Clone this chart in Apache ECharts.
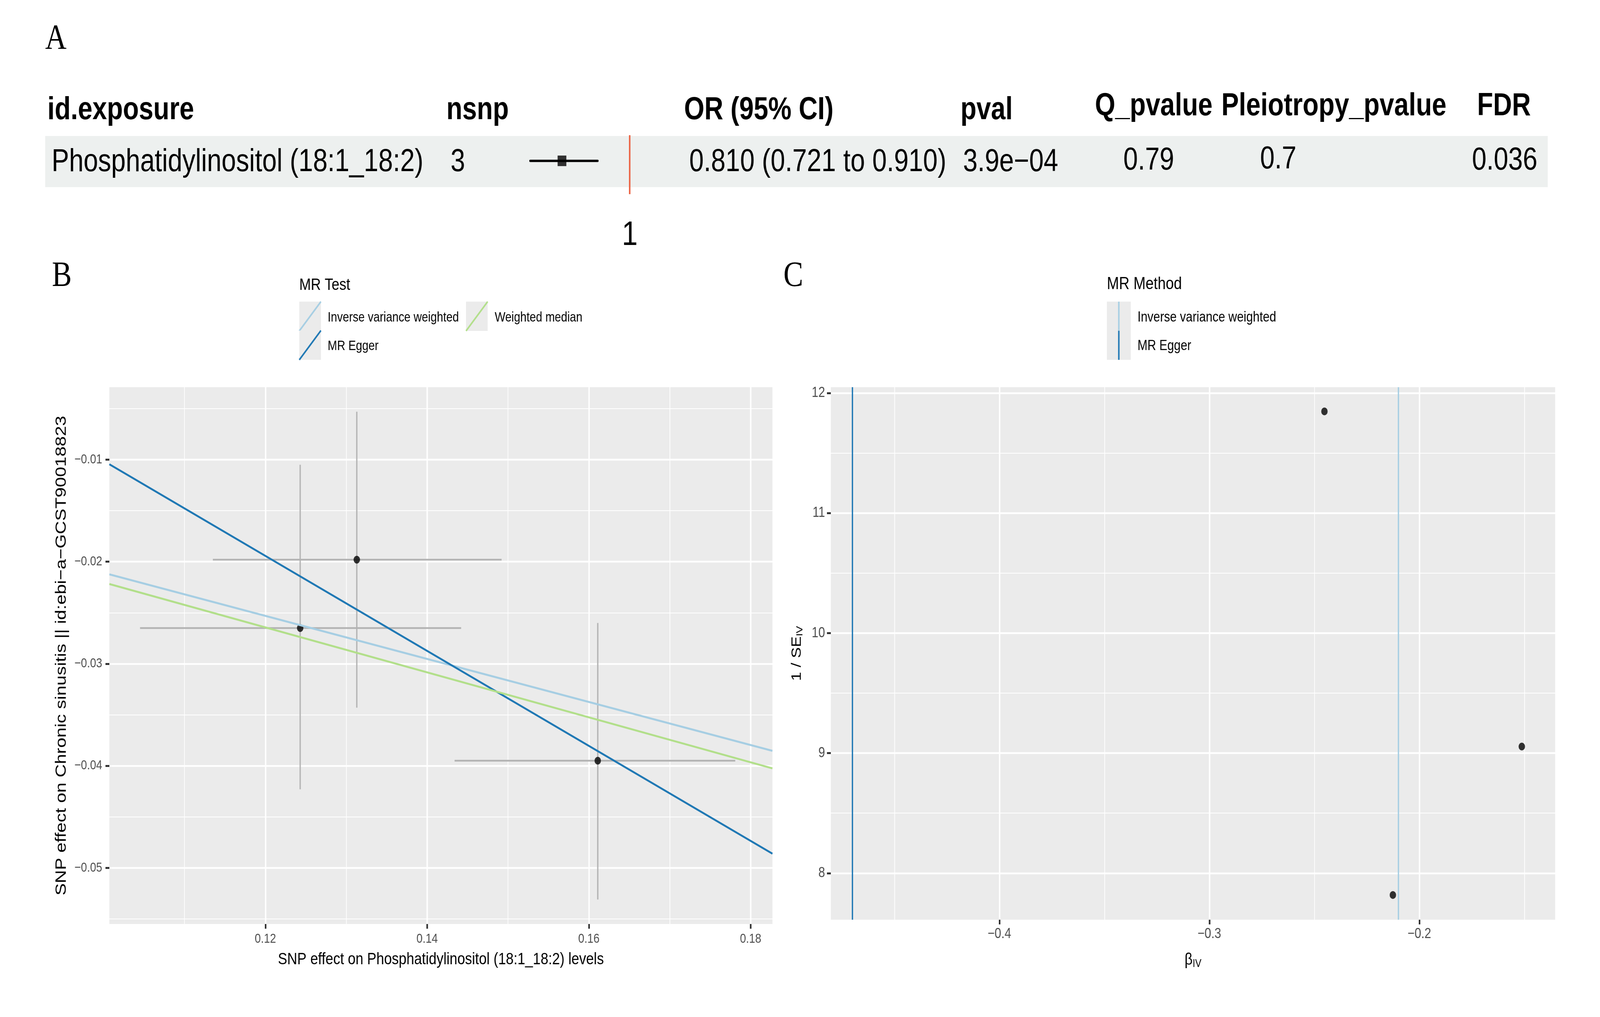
<!DOCTYPE html>
<html>
<head>
<meta charset="utf-8">
<script src="https://cdn.jsdelivr.net/npm/echarts@6/dist/echarts.min.js"></script>
<style>
  html, body { margin: 0; padding: 0; background: #fff; overflow: hidden; }
  #chart { width: 4961px; height: 2603px; transform-origin: 0 0; }
</style>
</head>
<body>
<div id="chart"></div>
<script>
// ---- Panel A: table row ----
const tableHeaders = ['id.exposure', 'nsnp', 'OR (95% CI)', 'pval', 'Q_pvalue', 'Pleiotropy_pvalue', 'FDR'];
const exposure = 'Phosphatidylinositol (18:1_18:2)';
const nsnp = 3;
const orEst = 0.810;
const orLow = 0.721;
const orHigh = 0.910;
const pval = '3.9e\u221204';
const qPvalue = '0.79';
const pleioPvalue = '0.7';
const fdr = '0.036';
const forestTicks = [1];

// ---- Panel B: scatter ----
const methods = ['Inverse variance weighted', 'MR Egger', 'Weighted median'];
const methodSlope = [-0.2109, -0.4653, -0.2203];
const methodIntercept = [0, 0.0364, 0];
const snpBx = [0.1243, 0.1313, 0.1611];
const snpBy = [-0.0265, -0.0198, -0.0395];
const snpBxLo = [0.1045, 0.1135, 0.1434];
const snpBxHi = [0.1442, 0.1492, 0.1781];
const snpByLo = [-0.0423, -0.0343, -0.0531];
const snpByHi = [-0.0105, -0.0053, -0.0260];
const scatterXMajor = [0.12, 0.14, 0.16, 0.18];
const scatterXMinor = [0.11, 0.13, 0.15, 0.17];
const scatterYMajor = [-0.05, -0.04, -0.03, -0.02, -0.01];
const scatterYMinor = [-0.055, -0.045, -0.035, -0.025, -0.015, -0.005];

// ---- Panel C: funnel ----
const funnelMethods = ['Inverse variance weighted', 'MR Egger'];
const funnelMethodBeta = [-0.2109, -0.4650];
const funnelBeta = [-0.2126, -0.1512, -0.2452];
const funnelInvSe = [7.818, 9.055, 11.847];
const funnelXMajor = [-0.4, -0.3, -0.2];
const funnelXMinor = [-0.45, -0.35, -0.25, -0.15];
const funnelYMajor = [8, 9, 10, 11, 12];
const funnelYMinor = [8.5, 9.5, 10.5, 11.5];

const COLORS = {
  ivw: '#a6cee3',
  egger: '#1f78b4',
  wm: '#b2df8a',
  panel: '#ebebeb',
  band: '#edf0ef',
  ref: '#eb6a4c',
  errbar: '#b3b3b3',
  tick: '#333333',
  tickText: '#4d4d4d',
};
const methodColor = { 'Inverse variance weighted': COLORS.ivw, 'MR Egger': COLORS.egger, 'Weighted median': COLORS.wm };

const SANS = '"Liberation Sans", Arial, Helvetica, sans-serif';
const SERIF = '"Liberation Serif", "DejaVu Serif", serif';

const W = 4961, H = 2603;
const B_X = [0.1007, 0.1827];
const B_Y = [-0.0555, -0.0029];
const C_X = [-0.4803, -0.1353];
const C_Y = [7.612, 12.049];

const minus = v => String(v).replace('-', '\u2212');

// the layout is drawn on a 4961x2603 board, then fitted to the window
const el = document.getElementById('chart');
el.style.transform = `scale(${window.innerWidth / W}, ${window.innerHeight / H})`;

function majorAxis(gridIndex, range, ticks, extra) {
  return Object.assign({
    type: 'value', gridIndex, min: range[0], max: range[1],
    axisLine: { show: false },
    axisTick: { show: true, customValues: ticks, length: 12, lineStyle: { color: COLORS.tick, width: 5 } },
    axisLabel: { customValues: ticks, color: COLORS.tickText, fontSize: 34, fontFamily: SANS, formatter: minus },
    splitLine: { show: true, lineStyle: { color: '#ffffff', width: 4.5 } },
    nameLocation: 'middle',
    nameTextStyle: { color: '#000', fontSize: 43, fontFamily: SANS },
  }, extra || {});
}

function minorAxis(gridIndex, range, ticks) {
  return {
    type: 'value', gridIndex, min: range[0], max: range[1],
    axisLine: { show: false },
    axisTick: { show: false, customValues: ticks },
    axisLabel: { show: false, customValues: ticks },
    splitLine: { show: true, lineStyle: { color: '#ffffff', width: 2.2 } },
  };
}

function txt(text, x, y, size, opts) {
  return Object.assign({
    type: 'text', x, y, silent: true,
    style: Object.assign({ text, fontSize: size, fontFamily: SANS, fill: '#000', verticalAlign: 'middle', align: 'left' }, (opts && opts.style) || {}),
  }, opts && opts.el);
}

// ---- table graphics ----
const headerX = [147, 1384, 2121, 2978, 3395, 3787, 4580];
const headerY = [283, 283, 283, 283, 273, 273, 273];
const rowCells = [exposure, String(nsnp),
  `${orEst.toFixed(3)} (${orLow.toFixed(3)} to ${orHigh.toFixed(3)})`, pval, qPvalue, pleioPvalue, fdr];
const rowX = [160, 1397, 2137, 2986, 3483, 3907, 4564];
const rowY = [416, 416, 416, 416, 412, 409, 412];

const graphics = [];
graphics.push({ type: 'rect', z: -10, silent: true, shape: { x: 140, y: 348, width: 4659, height: 131 }, style: { fill: COLORS.band } });
tableHeaders.forEach((h, i) => graphics.push(txt(h, headerX[i], headerY[i], 81, { style: { fontWeight: 'bold' } })));
rowCells.forEach((c, i) => graphics.push(txt(c, rowX[i], rowY[i], 81)));

// panel letters
[['A', 140, 101], ['B', 161, 708], ['C', 2429, 708]].forEach(([t, x, y]) =>
  graphics.push(txt(t, x, y, 92, { style: { fontFamily: SERIF } })));

// legend B (MR Test)
graphics.push(txt('MR Test', 928, 730, 43));
const legBKeys = [[928, 772], [928, 846], [1445, 772]];
const legBLabels = [[1016, 813], [1016, 886], [1534, 813]];
methods.forEach((m, i) => {
  const [kx, ky] = legBKeys[i];
  graphics.push({ type: 'rect', silent: true, shape: { x: kx, y: ky, width: 67, height: 75 }, style: { fill: COLORS.panel } });
  graphics.push({ type: 'line', silent: true, shape: { x1: kx, y1: ky + 75, x2: kx + 67, y2: ky }, style: { stroke: methodColor[m], lineWidth: 4.5 } });
  graphics.push(txt(m, legBLabels[i][0], legBLabels[i][1], 35));
});

// legend C (MR Method)
graphics.push(txt('MR Method', 3432, 728, 45));
graphics.push({ type: 'rect', silent: true, shape: { x: 3432, y: 772, width: 74, height: 149 }, style: { fill: COLORS.panel } });
funnelMethods.forEach((m, i) => {
  const ky = 772 + i * 74.5;
  graphics.push({ type: 'line', silent: true, shape: { x1: 3469, y1: ky, x2: 3469, y2: ky + 74.5 }, style: { stroke: methodColor[m], lineWidth: 4.5 } });
  graphics.push(txt(m, 3527, 813 + i * 73, 37));
});

// ---- chart ----
const chart = echarts.init(el, null, { renderer: 'canvas' });

const scatterLines = methods.map((m, i) => ({
  name: m, type: 'line', xAxisIndex: 0, yAxisIndex: 0, z: 5,
  showSymbol: false, silent: true,
  color: methodColor[m],
  lineStyle: { width: 5, color: methodColor[m] },
  data: B_X.map(x => [x, methodIntercept[i] + methodSlope[i] * x]),
}));

const funnelLines = funnelMethods.map((m, i) => ({
  name: m, type: 'line', xAxisIndex: 2, yAxisIndex: 2, z: 3,
  data: [], silent: true,
  markLine: {
    silent: true, symbol: 'none', animation: false,
    label: { show: false },
    lineStyle: { color: methodColor[m], width: 4, type: 'solid' },
    data: [{ xAxis: funnelMethodBeta[i] }],
  },
}));

chart.setOption({
  animation: false,
  backgroundColor: '#ffffff',
  textStyle: { fontFamily: SANS },
  graphic: { elements: graphics },
  grid: [
    { left: 339, right: W - 2395, top: 991, bottom: H - 2365, show: true, backgroundColor: COLORS.panel, borderWidth: 0 },
    { left: 2576, right: W - 4822, top: 991, bottom: H - 2354, show: true, backgroundColor: COLORS.panel, borderWidth: 0 },
    { left: 1510, width: 664, top: 346, height: 151 },
  ],
  xAxis: [
    majorAxis(0, B_X, scatterXMajor, {
      name: 'SNP effect on Phosphatidylinositol (18:1_18:2) levels', nameGap: 70,
      axisLabel: { customValues: scatterXMajor, color: COLORS.tickText, fontSize: 34, fontFamily: SANS, margin: 22, formatter: minus },
    }),
    minorAxis(0, B_X, scatterXMinor),
    majorAxis(1, C_X, funnelXMajor, {
      name: '{b|\u03b2}{s|IV}', nameGap: 80,
      axisLabel: { customValues: funnelXMajor, color: COLORS.tickText, fontSize: 37, fontFamily: SANS, margin: 18, formatter: minus },
      nameTextStyle: { color: '#000', fontSize: 43, fontFamily: SANS,
        rich: { b: { fontSize: 43, fontFamily: SANS }, s: { fontSize: 29, fontFamily: SANS, padding: [18, 0, 0, 0] } } },
    }),
    minorAxis(1, C_X, funnelXMinor),
    {
      type: 'value', gridIndex: 2, min: 0.6, max: 1.2,
      axisLine: { show: false },
      axisTick: { show: true, customValues: forestTicks, length: 55, lineStyle: { color: '#000', width: 4 } },
      axisLabel: { customValues: forestTicks, color: '#000', fontSize: 88, fontFamily: SANS, margin: 62 },
      splitLine: { show: false },
    },
  ],
  yAxis: [
    majorAxis(0, B_Y, scatterYMajor, {
      name: 'SNP effect on Chronic sinusitis || id:ebi\u2212a\u2212GCST90018823', nameGap: 124,
      axisLabel: { customValues: scatterYMajor, color: COLORS.tickText, fontSize: 34, fontFamily: SANS, margin: 22, formatter: minus },
      nameTextStyle: { color: '#000', fontSize: 47, fontFamily: SANS },
    }),
    minorAxis(0, B_Y, scatterYMinor),
    majorAxis(1, C_Y, funnelYMajor, {
      name: '1 / SE{s|IV}', nameGap: 82,
      axisLabel: { customValues: funnelYMajor, color: COLORS.tickText, fontSize: 37, fontFamily: SANS, margin: 18, formatter: minus },
      nameTextStyle: { color: '#000', fontSize: 42, fontFamily: SANS,
        rich: { s: { fontSize: 28, fontFamily: SANS, padding: [18, 0, 0, 0] } } },
    }),
    minorAxis(1, C_Y, funnelYMinor),
    { type: 'value', gridIndex: 2, min: -1.3, max: 1, show: false },
  ],
  series: [
    // B: error bars
    {
      type: 'custom', xAxisIndex: 0, yAxisIndex: 0, z: 2, silent: true,
      data: snpBx.map((x, i) => [x, snpBy[i], snpBxLo[i], snpBxHi[i], snpByLo[i], snpByHi[i]]),
      encode: { x: 0, y: 1 },
      renderItem: (params, api) => {
        const xl = api.coord([api.value(2), api.value(1)]);
        const xh = api.coord([api.value(3), api.value(1)]);
        const yl = api.coord([api.value(0), api.value(4)]);
        const yh = api.coord([api.value(0), api.value(5)]);
        return {
          type: 'group',
          children: [
            { type: 'line', shape: { x1: yl[0], y1: yl[1], x2: yh[0], y2: yh[1] }, style: { stroke: COLORS.errbar, lineWidth: 4 } },
            { type: 'line', shape: { x1: xl[0], y1: xl[1], x2: xh[0], y2: xh[1] }, style: { stroke: COLORS.errbar, lineWidth: 4.5 } },
          ],
        };
      },
    },
    // B: SNP points
    {
      type: 'scatter', xAxisIndex: 0, yAxisIndex: 0, z: 4, silent: true,
      symbolSize: 20, itemStyle: { color: '#000' },
      data: snpBx.map((x, i) => [x, snpBy[i]]),
    },
    ...scatterLines,
    // C: funnel points
    {
      type: 'scatter', xAxisIndex: 2, yAxisIndex: 2, z: 4, silent: true,
      symbolSize: 20, itemStyle: { color: '#000' },
      data: funnelBeta.map((b, i) => [b, funnelInvSe[i]]),
    },
    ...funnelLines,
    // A: forest CI + estimate
    {
      type: 'line', xAxisIndex: 4, yAxisIndex: 4, z: 4, silent: true,
      showSymbol: false,
      lineStyle: { color: '#000', width: 6, cap: 'round' },
      data: [[orLow, 0], [orHigh, 0]],
      markLine: {
        silent: true, symbol: 'none', animation: false,
        label: { show: false },
        lineStyle: { color: COLORS.ref, width: 5, type: 'solid' },
        data: [{ xAxis: 1 }],
      },
    },
    {
      type: 'scatter', xAxisIndex: 4, yAxisIndex: 4, z: 5, silent: true,
      symbol: 'rect', symbolSize: 27, itemStyle: { color: '#000' },
      data: [[orEst, 0]],
    },
  ],
});
</script>
</body>
</html>
